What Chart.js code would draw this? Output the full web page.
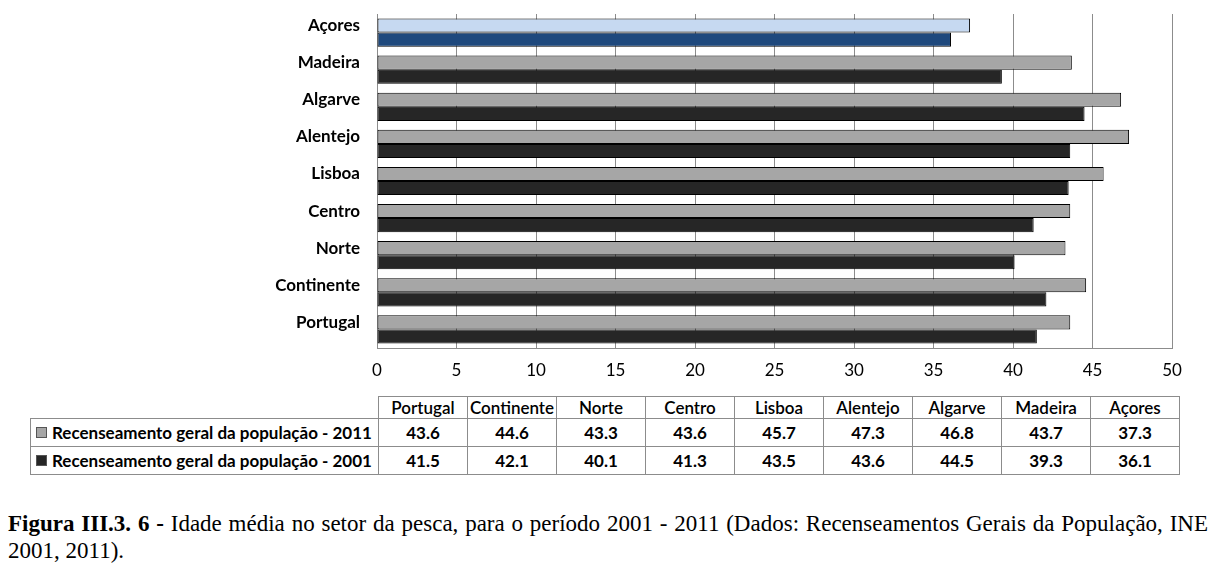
<!DOCTYPE html>
<html>
<head>
<meta charset="utf-8">
<script src="https://cdn.jsdelivr.net/npm/chart.js@4/dist/chart.umd.min.js"></script>
<style>
  html, body { margin: 0; padding: 0; background: #fff; }
  body { width: 1214px; height: 568px; position: relative; overflow: hidden; }
  #chartBox { position: absolute; left: 0; top: 0; width: 1214px; height: 390px; }
  #tbl { position: absolute; left: 30px; top: 396px; border-collapse: collapse; font-family: Lato, "Open Sans", sans-serif; font-size: 17px; color: #000; }
  #tbl td { border: 1px solid #8c8c8c; text-align: center; padding: 0; line-height: 18px; }
  #tbl tr.h td { height: 21px; font-weight: 600; }
  #tbl tr.r td { height: 27px; font-weight: 700; }
  #tbl td.empty { border: none; border-bottom: 1px solid #8c8c8c; }
  #tbl td.rh { text-align: left; padding-left: 5px; width: 342px; white-space: nowrap; }
  #tbl td.v { width: 88px; }
  .key { display: inline-block; width: 9px; height: 9px; border: 1px solid #555; margin-right: 5px; vertical-align: 1px; }
  #caption { position: absolute; left: 8px; top: 510px; width: 1200px; font-family: "Liberation Serif", "Times New Roman", serif; font-size: 23px; line-height: 27px; text-align: justify; color: #000; }
</style>
</head>
<body>
<div id="chartBox"><canvas id="c" width="1214" height="390"></canvas></div>
<table id="tbl"></table>
<div id="caption"><b>Figura III.3. 6 -</b> Idade média no setor da pesca, para o período 2001 - 2011 (Dados: Recenseamentos Gerais da População, INE 2001, 2011).</div>
<script>
// Data (table order)
const regions = ['Portugal', 'Continente', 'Norte', 'Centro', 'Lisboa', 'Alentejo', 'Algarve', 'Madeira', 'Açores'];
const values2011 = [43.6, 44.6, 43.3, 43.6, 45.7, 47.3, 46.8, 43.7, 37.3];
const values2001 = [41.5, 42.1, 40.1, 41.3, 43.5, 43.6, 44.5, 39.3, 36.1];
const seriesNames = ['Recenseamento geral da população - 2011', 'Recenseamento geral da população - 2001'];
const xTicks = [0, 5, 10, 15, 20, 25, 30, 35, 40, 45, 50];

// Chart order: top to bottom = Açores ... Portugal
const chartLabels = regions.slice().reverse();
const chart2011 = values2011.slice().reverse();
const chart2001 = values2001.slice().reverse();

const GRAY = '#a6a6a6', DARK = '#262626', LBLUE = '#c6d9f1', DBLUE = '#1f497d';
const hiIdx = chartLabels.indexOf('Açores');

const PLOT_LEFT = 377, PLOT_RIGHT = 1172, PLOT_TOP = 14, PLOT_BOTTOM = 348, H = 390;

new Chart(document.getElementById('c'), {
  type: 'bar',
  data: {
    labels: chartLabels,
    datasets: [
      { label: seriesNames[0], data: chart2011,
        backgroundColor: ctx => ctx.dataIndex === hiIdx ? LBLUE : GRAY,
        borderColor: '#000', borderWidth: 1, borderSkipped: false },
      { label: seriesNames[1], data: chart2001,
        backgroundColor: ctx => ctx.dataIndex === hiIdx ? DBLUE : DARK,
        borderColor: '#000', borderWidth: 1, borderSkipped: false }
    ]
  },
  options: {
    indexAxis: 'y',
    responsive: false,
    animation: false,
    layout: { padding: { left: 0, right: 1214 - PLOT_RIGHT, top: PLOT_TOP, bottom: 0 } },
    datasets: { bar: { categoryPercentage: 0.76, barPercentage: 1.0 } },
    plugins: { legend: { display: false }, tooltip: { enabled: false } },
    scales: {
      x: {
        min: 0, max: 50,
        afterBuildTicks: s => { s.ticks = xTicks.map(v => ({ value: v })); },
        afterFit: s => { s.height = H - PLOT_BOTTOM; s.paddingLeft = 0; s.paddingRight = 0; },
        grid: { color: '#8c8c8c', lineWidth: 1, drawTicks: false },
        border: { display: true, color: '#8c8c8c' },
        ticks: { padding: 12, color: '#000', font: { family: 'Lato', size: 17 } }
      },
      y: {
        afterFit: s => { s.width = PLOT_LEFT; s.paddingTop = 0; s.paddingBottom = 0; },
        grid: { display: false, drawTicks: false },
        border: { display: true, color: '#8c8c8c' },
        ticks: { padding: 17, labelOffset: -7, color: '#000', font: { family: 'Lato', size: 17, weight: 'bold' } }
      }
    }
  }
});

// Data table
const tbl = document.getElementById('tbl');
let html = '<tr class="h"><td class="empty"></td>' + regions.map(r => '<td class="v">' + r + '</td>').join('') + '</tr>';
const keyColors = [GRAY, DARK];
[values2011, values2001].forEach((vals, i) => {
  html += '<tr class="r"><td class="rh"><span class="key" style="background:' + keyColors[i] + '"></span>' + seriesNames[i] + '</td>' +
    vals.map(v => '<td class="v">' + v.toFixed(1) + '</td>').join('') + '</tr>';
});
tbl.innerHTML = html;
</script>
</body>
</html>
